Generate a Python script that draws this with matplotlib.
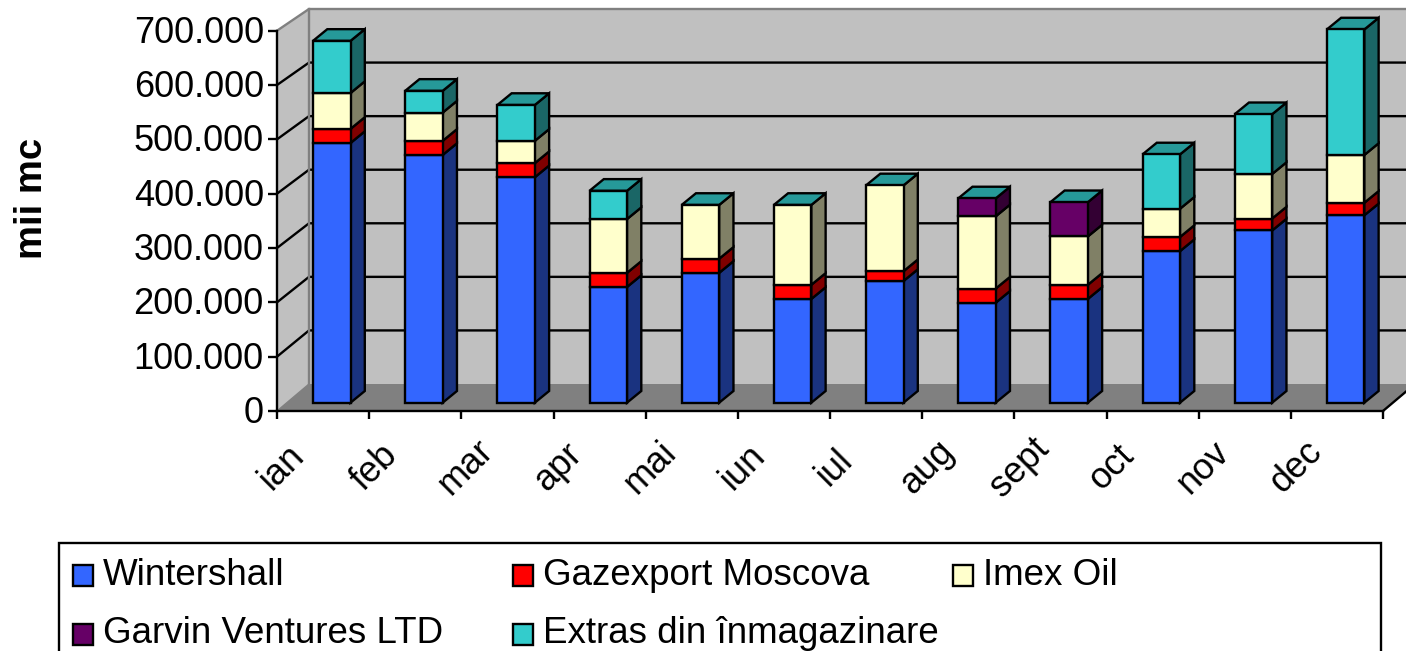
import numpy as np
import matplotlib
matplotlib.use('Agg')
import matplotlib.pyplot as plt
from matplotlib.patches import Polygon, Rectangle
from matplotlib.ticker import FuncFormatter
from matplotlib.transforms import ScaledTranslation

plt.rcParams['font.family'] = ['Liberation Sans', 'DejaVu Sans']

months = ['ian', 'feb', 'mar', 'apr', 'mai', 'iun', 'iul', 'aug', 'sept', 'oct', 'nov', 'dec']
names = ['Wintershall', 'Gazexport Moscova', 'Imex Oil', 'Garvin Ventures LTD', 'Extras din înmagazinare']

# mii mc
wintershall = [478000, 456000, 415000, 213000, 239000, 191000, 224000, 184000, 191000, 279000, 317000, 345000]
gazexport = [26000, 26000, 26000, 26000, 26000, 26000, 18000, 26000, 26000, 26000, 22000, 23000]
imex = [66000, 52000, 41000, 99000, 99000, 147000, 158000, 133000, 89000, 52000, 82000, 88000]
garvin = [0, 0, 0, 0, 0, 0, 0, 33000, 63000, 0, 0, 0]
extras = [96000, 40000, 66000, 52000, 0, 0, 0, 0, 0, 100000, 110000, 231000]

front_cols = ['#3366FF', '#FF0000', '#FFFFCC', '#660066', '#33CCCC']
side_cols = ['#1A3380', '#800000', '#808066', '#330033', '#1A6666']
lid_col = '#269999'

W, H = 1406, 651
fig = plt.figure(figsize=(W / 100, H / 100), dpi=100)
ax = fig.add_axes([277 / W, (H - 411) / H, 1106 / W, 380.3 / H])
ax.set_xlim(0, 12)
ax.set_ylim(0, 700000)
ax.patch.set_visible(False)

# one pixel in data units
px_x = 12 / 1106
px_y = 700000 / 380.3


def wall(x, v):
    # point on the back plane of the 3d box
    return x + 32 * px_x, v * 375 / 380.3 + 27 * px_y


lw = 1.7
grey = '#808080'

# walls and floor
back = [wall(0, 0), wall(12, 0), wall(12, 700000), wall(0, 700000)]
ax.add_patch(Polygon(back, fc='#C0C0C0', ec='none', clip_on=False, zorder=0))
side = [(0, 0), wall(0, 0), wall(0, 700000), (0, 700000)]
ax.add_patch(Polygon(side, fc='#C0C0C0', ec='none', clip_on=False, zorder=0))
floor = [(0, 0), (12, 0), wall(12, 0), wall(0, 0)]
ax.add_patch(Polygon(floor, fc=grey, ec='none', clip_on=False, zorder=0.5))

for v in range(100000, 700000, 100000):
    x0, y0 = wall(0, v)
    x1, y1 = wall(12, v)
    ax.plot([0, x0, x1], [v, y0, y1], color='black', lw=lw, clip_on=False, zorder=1)

x0, y0 = wall(0, 0)
x1, y1 = wall(0, 700000)
x2, y2 = wall(12, 700000)
ax.plot([0, x1, x2], [700000, y1, y2], color=grey, lw=lw, clip_on=False, zorder=1)
ax.plot([x0, x1], [y0, y1], color=grey, lw=lw, clip_on=False, zorder=1)
ax.plot([0, x0], [0, y0], color=grey, lw=1, clip_on=False, zorder=1)
x3, y3 = wall(12, 0)
ax.plot([12, x3], [0, y3], color='black', lw=lw, clip_on=False, zorder=1)

# stacked bars
series = [wintershall, gazexport, imex, garvin, extras]
x_pos = np.arange(12) + 36 * px_x
bar_w = 37.5 * px_x
base = 8.3 * px_y
dx = 14.3 * px_x
dy = 11.7 * px_y

bottom = np.full(12, base)
for vals, fc, sc in zip(series, front_cols, side_cols):
    vals = np.array(vals, dtype=float)
    for x, b, v in zip(x_pos, bottom, vals):
        if v == 0:
            continue
        xr = x + bar_w
        ax.add_patch(Polygon([(xr, b), (xr + dx, b + dy), (xr + dx, b + v + dy), (xr, b + v)],
                             fc=sc, ec='black', lw=lw, joinstyle='miter', clip_on=False, zorder=3))
    mask = vals > 0
    ax.bar(x_pos[mask], vals[mask], width=bar_w, bottom=bottom[mask], align='edge',
           color=fc, edgecolor='black', linewidth=lw, zorder=3.5, clip_on=False)
    bottom = bottom + vals

for x, t in zip(x_pos, bottom):
    ax.add_patch(Polygon([(x, t), (x + bar_w, t), (x + bar_w + dx, t + dy), (x + dx, t + dy)],
                         fc=lid_col, ec='black', lw=lw, joinstyle='miter', clip_on=False, zorder=3.2))

# axes
for s in ['top', 'right']:
    ax.spines[s].set_visible(False)
for s in ['left', 'bottom']:
    ax.spines[s].set_linewidth(lw)
    ax.spines[s].set_zorder(2)
ax.set_yticks(range(0, 800000, 100000))
ax.yaxis.set_major_formatter(FuncFormatter(lambda v, p: f'{v:,.0f}'.replace(',', '.')))
ax.tick_params(axis='y', length=6.5, width=lw, labelsize=26, pad=3)
ax.set_xticks(range(13))
ax.set_xticklabels(months + [''], rotation=45, ha='center', va='center', fontsize=26)
ax.tick_params(axis='x', length=6, width=lw, pad=34.5)
shift = ScaledTranslation(5 / 100, 0, fig.dpi_scale_trans)
for lab in ax.get_xticklabels():
    lab.set_transform(lab.get_transform() + shift)
up = ScaledTranslation(0, 1.5 / 100, fig.dpi_scale_trans)
for lab in ax.get_yticklabels():
    lab.set_transform(lab.get_transform() + up)

fig.text(32 / W, (H - 198) / H, 'mii mc', rotation=90, ha='center', va='center',
         fontsize=27.5, fontweight='bold')

# legend
lg = fig.add_axes([0, 0, 1, 1], zorder=5)
lg.set_xlim(0, W)
lg.set_ylim(H, 0)
lg.axis('off')
lg.add_patch(Rectangle((58.5, 543), 1322.5, 140, fc='white', ec='black', lw=lw))
leg_x = [73, 513, 953, 73, 513]
leg_y = [564.5, 564.5, 564.5, 624, 624]
leg_base = [585, 585, 585, 643, 643]
for name, col, x, y, b in zip(names, front_cols, leg_x, leg_y, leg_base):
    lg.add_patch(Rectangle((x, y), 20, 21, fc=col, ec='black', lw=lw))
    lg.text(x + 30, b, name, fontsize=26.5, va='baseline', ha='left')

fig.savefig('out.png', dpi=100)
